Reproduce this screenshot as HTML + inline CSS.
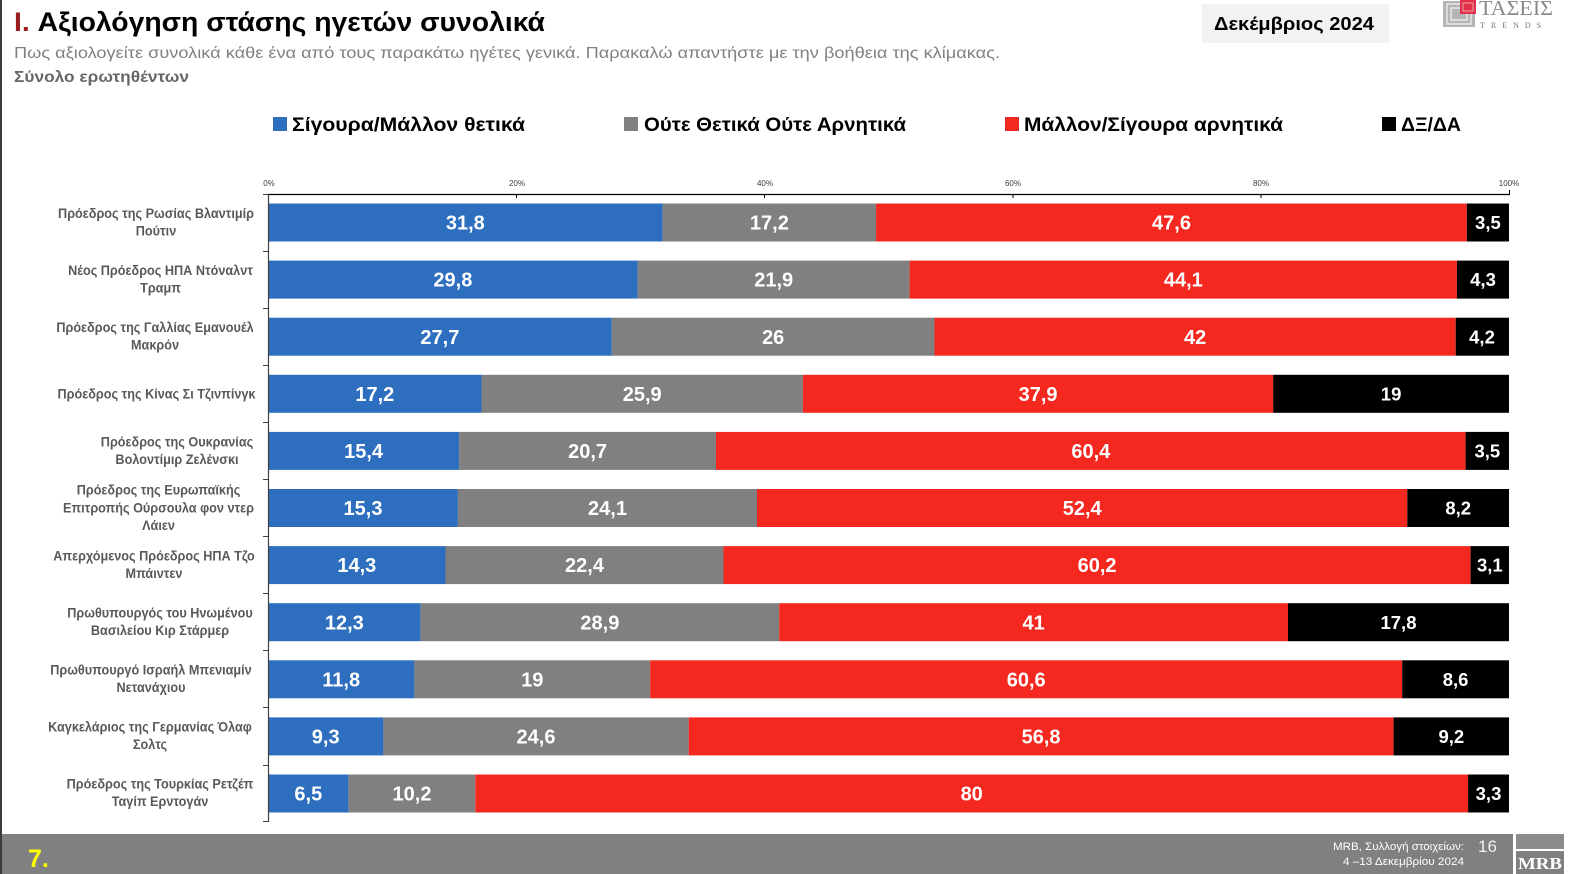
<!DOCTYPE html>
<html>
<head>
<meta charset="utf-8">
<style>
html,body{margin:0;padding:0;background:#fff;}
svg{display:block;}
text{font-family:"Liberation Sans","DejaVu Sans",sans-serif;}
.lbl{font-size:14px;font-weight:bold;fill:#595959;}
.v{font-size:20px;font-weight:bold;fill:#fff;text-anchor:middle;}
.vk{font-size:18.5px;font-weight:bold;fill:#fff;text-anchor:middle;}
.tk{font-size:8px;fill:#404040;text-anchor:middle;}
.lg{font-size:19.5px;font-weight:bold;fill:#000;}
</style>
</head>
<body>
<svg width="1574" height="874" viewBox="0 0 1574 874" xmlns="http://www.w3.org/2000/svg">
<rect x="0" y="0" width="1574" height="874" fill="#fff"/>
<rect x="0" y="0" width="2" height="874" fill="#3c3c3c"/>

<!-- Title -->
<text x="14" y="31" font-size="27" font-weight="bold" textLength="531" lengthAdjust="spacingAndGlyphs"><tspan fill="#9a1c1c">I.</tspan><tspan fill="#000"> Αξιολόγηση στάσης ηγετών συνολικά</tspan></text>
<text x="14" y="58" font-size="15.5" fill="#808080" textLength="986" lengthAdjust="spacingAndGlyphs">Πως αξιολογείτε συνολικά κάθε ένα από τους παρακάτω ηγέτες γενικά. Παρακαλώ απαντήστε με την βοήθεια της κλίμακας.</text>
<text x="14" y="82" font-size="15.5" font-weight="bold" fill="#666" textLength="175" lengthAdjust="spacingAndGlyphs">Σύνολο ερωτηθέντων</text>

<!-- Date box -->
<rect x="1202" y="4" width="187" height="39" fill="#f2f2f2"/>
<text x="1214" y="30" font-size="18.5" font-weight="bold" fill="#000" textLength="160" lengthAdjust="spacingAndGlyphs">Δεκέμβριος 2024</text>

<!-- TASEIS logo -->
<g>
  <rect x="1443" y="1" width="32" height="26" fill="#b5b5b5"/>
  <rect x="1447" y="4" width="24" height="20" fill="none" stroke="#e8e8e8" stroke-width="1.5"/>
  <rect x="1451" y="8" width="16" height="12" fill="none" stroke="#e8e8e8" stroke-width="1.5"/>
  <rect x="1460" y="0" width="16" height="14" fill="#e0304a"/>
  <rect x="1463" y="3" width="10" height="8" fill="none" stroke="#f4a0ad" stroke-width="1"/>
  <text x="1479" y="15" font-size="21" fill="#8a8a8a" textLength="74" lengthAdjust="spacingAndGlyphs" style="font-family:'Liberation Serif',serif">ΤΑΣΕΙΣ</text>
  <text x="1480" y="28" font-size="8" fill="#777" letter-spacing="6" style="font-family:'Liberation Serif',serif">TRENDS</text>
</g>

<!-- Legend -->
<rect x="273" y="117" width="14" height="14" fill="#2e6ebf"/>
<text class="lg" x="292" y="131" textLength="233" lengthAdjust="spacingAndGlyphs">Σίγουρα/Μάλλον θετικά</text>
<rect x="624" y="117" width="14" height="14" fill="#808080"/>
<text class="lg" x="644" y="131" textLength="262" lengthAdjust="spacingAndGlyphs">Ούτε Θετικά Ούτε Αρνητικά</text>
<rect x="1005" y="117" width="14" height="14" fill="#f4281f"/>
<text class="lg" x="1024" y="131" textLength="259" lengthAdjust="spacingAndGlyphs">Μάλλον/Σίγουρα αρνητικά</text>
<rect x="1382" y="117" width="14" height="14" fill="#000"/>
<text class="lg" x="1401" y="131" textLength="60" lengthAdjust="spacingAndGlyphs">ΔΞ/ΔΑ</text>

<!-- Axis ticks labels -->
<text class="tk" x="269" y="186">0%</text>
<text class="tk" x="517" y="186">20%</text>
<text class="tk" x="765" y="186">40%</text>
<text class="tk" x="1013" y="186">60%</text>
<text class="tk" x="1261" y="186">80%</text>
<text class="tk" x="1509" y="186">100%</text>
<line x1="268" y1="194.5" x2="1510" y2="194.5" stroke="#000" stroke-width="1.2"/>
<g stroke="#000" stroke-width="1">
<line x1="516.5" y1="194" x2="516.5" y2="198"/>
<line x1="764.5" y1="194" x2="764.5" y2="198"/>
<line x1="1013" y1="194" x2="1013" y2="198"/>
<line x1="1261" y1="194" x2="1261" y2="198"/>
<line x1="1509.5" y1="190" x2="1509.5" y2="194"/>
</g>

<!-- Bars -->
<g>
<rect x="268" y="203.5" width="394.6" height="38" fill="#2e6ebf"/>
<rect x="662.6" y="203.5" width="213.5" height="38" fill="#808080"/>
<rect x="876.1" y="203.5" width="590.7" height="38" fill="#f4281f"/>
<rect x="1466.8" y="203.5" width="42.2" height="38" fill="#000"/>
<text class="v" x="465.3" y="229.5">31,8</text>
<text class="v" x="769.4" y="229.5">17,2</text>
<text class="v" x="1171.5" y="229.5">47,6</text>
<text class="vk" x="1487.9" y="229">3,5</text>

<rect x="268" y="260.6" width="369.8" height="38" fill="#2e6ebf"/>
<rect x="637.8" y="260.6" width="271.8" height="38" fill="#808080"/>
<rect x="909.6" y="260.6" width="547.3" height="38" fill="#f4281f"/>
<rect x="1456.9" y="260.6" width="52.1" height="38" fill="#000"/>
<text class="v" x="452.9" y="286.6">29,8</text>
<text class="v" x="773.7" y="286.6">21,9</text>
<text class="v" x="1183.3" y="286.6">44,1</text>
<text class="vk" x="1483" y="286.1">4,3</text>

<rect x="268" y="317.7" width="343.8" height="38" fill="#2e6ebf"/>
<rect x="611.8" y="317.7" width="322.7" height="38" fill="#808080"/>
<rect x="934.5" y="317.7" width="521.2" height="38" fill="#f4281f"/>
<rect x="1455.7" y="317.7" width="53.3" height="38" fill="#000"/>
<text class="v" x="439.9" y="343.8">27,7</text>
<text class="v" x="773.2" y="343.8">26</text>
<text class="v" x="1195.1" y="343.8">42</text>
<text class="vk" x="1482" y="343.3">4,2</text>

<rect x="268" y="374.8" width="213.5" height="38" fill="#2e6ebf"/>
<rect x="481.5" y="374.8" width="321.4" height="38" fill="#808080"/>
<rect x="802.9" y="374.8" width="470.3" height="38" fill="#f4281f"/>
<rect x="1273.2" y="374.8" width="235.8" height="38" fill="#000"/>
<text class="v" x="374.8" y="400.9">17,2</text>
<text class="v" x="642.2" y="400.9">25,9</text>
<text class="v" x="1038.1" y="400.9">37,9</text>
<text class="vk" x="1391.1" y="400.4">19</text>

<rect x="268" y="431.9" width="191.1" height="38" fill="#2e6ebf"/>
<rect x="459.1" y="431.9" width="256.9" height="38" fill="#808080"/>
<rect x="716" y="431.9" width="749.6" height="38" fill="#f4281f"/>
<rect x="1465.6" y="431.9" width="43.4" height="38" fill="#000"/>
<text class="v" x="363.6" y="458">15,4</text>
<text class="v" x="587.6" y="458">20,7</text>
<text class="v" x="1090.8" y="458">60,4</text>
<text class="vk" x="1487.3" y="457.5">3,5</text>

<rect x="268" y="489" width="189.9" height="38" fill="#2e6ebf"/>
<rect x="457.9" y="489" width="299.1" height="38" fill="#808080"/>
<rect x="757" y="489" width="650.3" height="38" fill="#f4281f"/>
<rect x="1407.3" y="489" width="101.7" height="38" fill="#000"/>
<text class="v" x="363" y="515.1">15,3</text>
<text class="v" x="607.5" y="515.1">24,1</text>
<text class="v" x="1082.2" y="515.1">52,4</text>
<text class="vk" x="1458.2" y="514.6">8,2</text>

<rect x="268" y="546.1" width="177.5" height="38" fill="#2e6ebf"/>
<rect x="445.5" y="546.1" width="278" height="38" fill="#808080"/>
<rect x="723.5" y="546.1" width="747.1" height="38" fill="#f4281f"/>
<rect x="1470.6" y="546.1" width="38.4" height="38" fill="#000"/>
<text class="v" x="356.8" y="572.2">14,3</text>
<text class="v" x="584.5" y="572.2">22,4</text>
<text class="v" x="1097.1" y="572.2">60,2</text>
<text class="vk" x="1489.8" y="571.7">3,1</text>

<rect x="268" y="603.2" width="152.6" height="38" fill="#2e6ebf"/>
<rect x="420.6" y="603.2" width="358.6" height="38" fill="#808080"/>
<rect x="779.2" y="603.2" width="508.8" height="38" fill="#f4281f"/>
<rect x="1288" y="603.2" width="221" height="38" fill="#000"/>
<text class="v" x="344.3" y="629.3">12,3</text>
<text class="v" x="599.9" y="629.3">28,9</text>
<text class="v" x="1033.6" y="629.3">41</text>
<text class="vk" x="1398.5" y="628.8">17,8</text>

<rect x="268" y="660.3" width="146.4" height="38" fill="#2e6ebf"/>
<rect x="414.4" y="660.3" width="235.8" height="38" fill="#808080"/>
<rect x="650.2" y="660.3" width="752" height="38" fill="#f4281f"/>
<rect x="1402.2" y="660.3" width="106.8" height="38" fill="#000"/>
<text class="v" x="341.2" y="686.4">11,8</text>
<text class="v" x="532.3" y="686.4">19</text>
<text class="v" x="1026.2" y="686.4">60,6</text>
<text class="vk" x="1455.6" y="685.9">8,6</text>

<rect x="268" y="717.4" width="115.4" height="38" fill="#2e6ebf"/>
<rect x="383.4" y="717.4" width="305.3" height="38" fill="#808080"/>
<rect x="688.7" y="717.4" width="704.9" height="38" fill="#f4281f"/>
<rect x="1393.6" y="717.4" width="115.4" height="38" fill="#000"/>
<text class="v" x="325.7" y="743.5">9,3</text>
<text class="v" x="536" y="743.5">24,6</text>
<text class="v" x="1041.1" y="743.5">56,8</text>
<text class="vk" x="1451.3" y="743">9,2</text>

<rect x="268" y="774.5" width="80.7" height="38" fill="#2e6ebf"/>
<rect x="348.7" y="774.5" width="126.6" height="38" fill="#808080"/>
<rect x="475.3" y="774.5" width="992.8" height="38" fill="#f4281f"/>
<rect x="1468.1" y="774.5" width="40.9" height="38" fill="#000"/>
<text class="v" x="308.3" y="800.6">6,5</text>
<text class="v" x="412" y="800.6">10,2</text>
<text class="v" x="971.7" y="800.6">80</text>
<text class="vk" x="1488.5" y="800.1">3,3</text>
</g>

<!-- Vertical axis -->
<line x1="268.5" y1="194" x2="268.5" y2="822" stroke="#404040" stroke-width="1.2"/>
<g stroke="#404040" stroke-width="1">
<line x1="263" y1="194.5" x2="268" y2="194.5"/>
<line x1="263" y1="251.5" x2="268" y2="251.5"/>
<line x1="263" y1="308.5" x2="268" y2="308.5"/>
<line x1="263" y1="365.5" x2="268" y2="365.5"/>
<line x1="263" y1="422.5" x2="268" y2="422.5"/>
<line x1="263" y1="479.5" x2="268" y2="479.5"/>
<line x1="263" y1="536.5" x2="268" y2="536.5"/>
<line x1="263" y1="593.5" x2="268" y2="593.5"/>
<line x1="263" y1="650.5" x2="268" y2="650.5"/>
<line x1="263" y1="707.5" x2="268" y2="707.5"/>
<line x1="263" y1="765.5" x2="268" y2="765.5"/>
<line x1="263" y1="821.5" x2="268" y2="821.5"/>
</g>

<!-- Category labels -->
<g class="lbl" text-anchor="middle">
<g transform="translate(156,0) scale(0.905,1)"><text x="0" y="218">Πρόεδρος της Ρωσίας Βλαντιμίρ</text><text x="0" y="235.5">Πούτιν</text></g>
<g transform="translate(160.5,0) scale(0.905,1)"><text x="0" y="275">Νέος Πρόεδρος ΗΠΑ Ντόναλντ</text><text x="0" y="292.5">Τραμπ</text></g>
<g transform="translate(155,0) scale(0.905,1)"><text x="0" y="332">Πρόεδρος της Γαλλίας Εμανουέλ</text><text x="0" y="349.5">Μακρόν</text></g>
<g transform="translate(156.5,0) scale(0.905,1)"><text x="0" y="398.5">Πρόεδρος της Κίνας Σι Τζινπίνγκ</text></g>
<g transform="translate(177,0) scale(0.905,1)"><text x="0" y="446.5">Πρόεδρος της Ουκρανίας</text><text x="0" y="464">Βολοντίμιρ Ζελένσκι</text></g>
<g transform="translate(158.5,0) scale(0.905,1)"><text x="0" y="494.5">Πρόεδρος της Ευρωπαϊκής</text><text x="0" y="512.5">Επιτροπής Ούρσουλα φον ντερ</text><text x="0" y="530">Λάιεν</text></g>
<g transform="translate(154,0) scale(0.905,1)"><text x="0" y="560.5">Απερχόμενος Πρόεδρος ΗΠΑ Τζο</text><text x="0" y="578">Μπάιντεν</text></g>
<g transform="translate(160,0) scale(0.905,1)"><text x="0" y="617.5">Πρωθυπουργός του Ηνωμένου</text><text x="0" y="635">Βασιλείου Κιρ Στάρμερ</text></g>
<g transform="translate(151,0) scale(0.905,1)"><text x="0" y="674.5">Πρωθυπουργό Ισραήλ Μπενιαμίν</text><text x="0" y="692">Νετανάχιου</text></g>
<g transform="translate(150,0) scale(0.905,1)"><text x="0" y="731.5">Καγκελάριος της Γερμανίας Όλαφ</text><text x="0" y="749">Σολτς</text></g>
<g transform="translate(160,0) scale(0.905,1)"><text x="0" y="788.5">Πρόεδρος της Τουρκίας Ρετζέπ</text><text x="0" y="806">Ταγίπ Ερντογάν</text></g>
</g>

<!-- Footer -->
<rect x="2" y="834" width="1511" height="40" fill="#808080"/>
<text x="28" y="867" font-size="25" font-weight="bold" fill="#ffff00">7.</text>
<text x="1333" y="850" font-size="11" fill="#fff" textLength="131" lengthAdjust="spacingAndGlyphs">MRB, Συλλογή στοιχείων:</text>
<text x="1343" y="865" font-size="11" fill="#fff" textLength="121" lengthAdjust="spacingAndGlyphs">4 –13 Δεκεμβρίου 2024</text>
<text x="1478" y="852" font-size="17" fill="#f2f2f2">16</text>
<!-- MRB logo -->
<rect x="1516" y="834" width="48" height="15" fill="#8c8c8c"/>
<rect x="1516" y="851" width="48" height="23" fill="#808080"/>
<text x="1540" y="869" font-size="17" font-weight="bold" fill="#fff" text-anchor="middle" style="font-family:'Liberation Serif',serif" textLength="44" lengthAdjust="spacingAndGlyphs">MRB</text>
</svg>
</body>
</html>
